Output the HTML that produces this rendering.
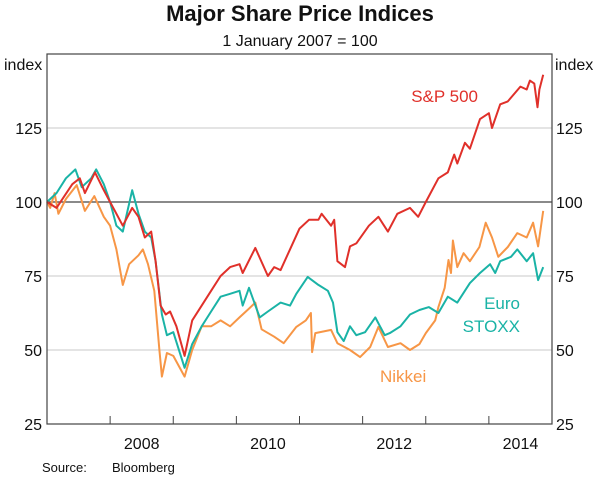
<!DOCTYPE html>
<html><head><meta charset="utf-8"><style>
html,body{margin:0;padding:0;background:#fff;}
svg{display:block;font-family:"Liberation Sans",Arial,sans-serif;}
</style></head><body>
<svg id="chart" width="600" height="480" viewBox="0 0 600 480">
<text x="300" y="21" text-anchor="middle" font-size="22" font-weight="bold" fill="#111">Major Share Price Indices</text>
<text x="300" y="46" text-anchor="middle" font-size="16" fill="#111">1 January 2007 = 100</text>
<g id="grid"></g>
<g id="series"></g>
<rect x="47" y="54" width="505" height="370" fill="none" stroke="#444" stroke-width="1.2"/>
<g id="axes"></g>
<text x="4" y="70" font-size="16" fill="#111">index</text>
<text x="555" y="70" font-size="16" fill="#111">index</text>
<text x="478" y="102" text-anchor="end" font-size="17" fill="#e0302a">S&amp;P 500</text>
<text x="520" y="309" text-anchor="end" font-size="17" fill="#1ab3a6">Euro</text>
<text x="520" y="332" text-anchor="end" font-size="17" fill="#1ab3a6">STOXX</text>
<text x="380" y="382" font-size="17" fill="#f79646">Nikkei</text>
<text x="42" y="472" font-size="13" fill="#111">Source:</text>
<text x="112" y="472" font-size="13" fill="#111">Bloomberg</text>
</svg>
<script>
const yTicks=[25,50,75,100,125];
const yearTicks=[2008,2009,2010,2011,2012,2013,2014];
const yearLabels=[2008,2010,2012,2014];
const spDates=[2007,2007.15,2007.4,2007.52,2007.6,2007.76,2007.9,2008,2008.2,2008.35,2008.45,2008.55,2008.65,2008.72,2008.8,2008.88,2008.95,2009.05,2009.18,2009.3,2009.45,2009.6,2009.75,2009.9,2010.05,2010.1,2010.3,2010.5,2010.6,2010.7,2010.85,2011,2011.15,2011.3,2011.35,2011.5,2011.55,2011.6,2011.72,2011.8,2011.9,2012.1,2012.25,2012.4,2012.55,2012.75,2012.88,2013,2013.2,2013.35,2013.45,2013.5,2013.62,2013.7,2013.86,2014,2014.05,2014.18,2014.3,2014.5,2014.6,2014.65,2014.72,2014.77,2014.8,2014.86];
const spValues=[100,98,106,108,103,110,104,100,92,98,95,88,90,80,65,62,63,58,48,60,65,70,75,78,79,76,84.5,75,78,77,84,91,94,94,96,92,94,80,78,85,86,92,95,90,96,98,95,100,108,110,116,113,120,118,128,130,125,133,134,139,138,141,140,132,138,143];
const euDates=[2007,2007.15,2007.3,2007.45,2007.55,2007.7,2007.78,2007.9,2008,2008.1,2008.2,2008.35,2008.45,2008.55,2008.65,2008.72,2008.82,2008.9,2009,2009.18,2009.3,2009.45,2009.6,2009.75,2009.9,2010.05,2010.1,2010.2,2010.37,2010.5,2010.7,2010.85,2010.95,2011.13,2011.3,2011.45,2011.53,2011.6,2011.7,2011.8,2011.9,2012.04,2012.2,2012.35,2012.43,2012.6,2012.75,2012.9,2013.05,2013.2,2013.35,2013.5,2013.7,2013.86,2014.02,2014.1,2014.18,2014.35,2014.45,2014.6,2014.7,2014.78,2014.86];
const euValues=[100,103,108,111,105,108,111,106,100,92,90,104,96,90,88,80,62,55,56,44,52,58,63,68,69,70,65,71,61,63,66,65,69,74.7,72,70,66,56,53,58,55,56,61,55,55.7,58,62,63.5,64.5,62.5,68,66,72.6,76,79,76,80,81.5,84,80,82.7,73.6,78];
const nkDates=[2007,2007.05,2007.12,2007.18,2007.3,2007.47,2007.6,2007.75,2007.9,2008,2008.1,2008.2,2008.3,2008.45,2008.52,2008.6,2008.7,2008.78,2008.82,2008.9,2009,2009.18,2009.3,2009.45,2009.6,2009.75,2009.9,2010.05,2010.2,2010.3,2010.4,2010.6,2010.75,2010.95,2011.1,2011.18,2011.2,2011.25,2011.5,2011.6,2011.8,2011.96,2012.12,2012.25,2012.4,2012.6,2012.75,2012.9,2013,2013.15,2013.2,2013.3,2013.36,2013.4,2013.43,2013.5,2013.6,2013.7,2013.85,2013.95,2014.05,2014.15,2014.3,2014.45,2014.6,2014.7,2014.78,2014.86];
const nkValues=[100,98,103,96,101,105.7,97,102,95,92,84,72,79,82,84,79,70,50,41,49,48,41,50,58,58,60,58,61,64,66,57,54.5,52.3,57.8,60,62.5,49.3,55.7,56.8,52.3,50,47.6,51,57.8,51,52.3,50,52,55.7,60,64.5,71,80.4,76,87,78,82.7,80,84.8,93,88,81.5,84.8,89.5,88,93,85,97];

const X0=47,X1=552,Y0=424,Y1=54;
function xs(t){return X0+(t-2007)/(2015-2007)*(X1-X0);}
function ys(v){return Y0-(v-25)/(150-25)*(Y0-Y1);}
const NS="http://www.w3.org/2000/svg";
const grid=document.getElementById('grid'),axes=document.getElementById('axes'),ser=document.getElementById('series');
function mk(tag,attrs,parent){const e=document.createElementNS(NS,tag);for(const k in attrs)e.setAttribute(k,attrs[k]);parent.appendChild(e);return e;}
yTicks.forEach(v=>{
  if(v>25){
    const l=mk('line',{x1:X0,x2:X1,y1:ys(v),y2:ys(v),stroke:v===100?'#444':'#c8c8c8','stroke-width':v===100?1.2:1},grid);
    
    
  }
  const a=mk('text',{x:42,y:ys(v)+6,'text-anchor':'end','font-size':16,fill:'#111'},axes);a.textContent=v;
  
  
  const b=mk('text',{x:556,y:ys(v)+6,'font-size':16,fill:'#111'},axes);b.textContent=v;
  
  
});
yearTicks.forEach(y=>{
  const t=mk('line',{x1:xs(y),x2:xs(y),y1:Y0,y2:Y0-8,stroke:'#444','stroke-width':1},axes);
  
  
});
yearLabels.forEach(y=>{
  const t=mk('text',{x:xs(y+0.5),y:449,'text-anchor':'middle','font-size':16,fill:'#111'},axes);t.textContent=y;
  
  
});
function line(dates,vals,color,name){
  const d=dates.map((t,i)=>(i?'L':'M')+xs(t).toFixed(1)+','+ys(vals[i]).toFixed(1)).join('');
  const p=mk('path',{d:d,fill:'none',stroke:color,'stroke-width':2,'stroke-linejoin':'round'},ser);
  
  
}
line(nkDates,nkValues,'#f79646','nikkei-line');
line(euDates,euValues,'#1ab3a6','eurostoxx-line');
line(spDates,spValues,'#e0302a','sp500-line');
</script>
</body></html>
